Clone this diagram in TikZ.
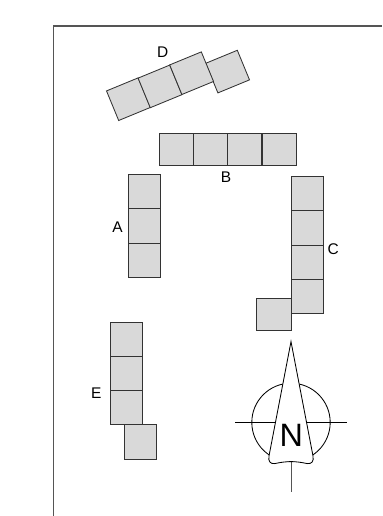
\documentclass[tikz,border=0pt]{standalone}
\usepackage{fontspec}
\setmainfont{Liberation Sans}
\usepackage{tikz}
\definecolor{cellgray}{HTML}{D9D9D9}
\definecolor{framegray}{HTML}{555555}
\tikzset{
  hcell/.style={draw=black!80,line width=0.6pt,fill=cellgray,inner sep=0,outer sep=0,minimum width=0.855cm,minimum height=0.8cm},
  vcell/.style={draw=black!80,line width=0.6pt,fill=cellgray,inner sep=0,outer sep=0,minimum width=0.8cm,minimum height=0.855cm},
  rowlabel/.style={font=\fontsize{11}{13}\selectfont,inner sep=0}
}
\begin{document}
\begin{tikzpicture}
  \useasboundingbox (0,0) rectangle (9.55,12.9);
  % outer boundary, open to the right and below
  \coordinate (fb) at (1.34,0);
  \coordinate (fc) at (1.34,12.25);
  \coordinate (fr) at (9.55,12.25);
  \draw[framegray,line width=0.85pt] (fb) -- (fc) -- (fr);
  % D, turned row
  \node[hcell,rotate=22.4] (d4) at (5.69,11.11) {};
  \node[hcell,rotate=22.4] (d1) at (3.21,10.42) {};
  \node[hcell,rotate=22.4] (d2) at (4.00,10.74) {};
  \node[hcell,rotate=22.4] (d3) at (4.79,11.07) {};
  \node[rowlabel] (dlabel) at (4.07,11.6) {D};
  % B
  \foreach \i/\x in {1/4.41,2/5.27,3/6.12,4/6.98}
    \node[hcell] (b\i) at (\x,9.17) {};
  \node[rowlabel] (blabel) at (5.65,8.48) {B};
  % A
  \foreach \i/\y in {1/8.105,2/7.25,3/6.395}
    \node[vcell] (a\i) at (3.61,\y) {};
  \node[rowlabel] (alabel) at (2.94,7.23) {A};
  % C
  \foreach \i/\y in {1/8.055,2/7.2,3/6.34,4/5.485}
    \node[vcell] (c\i) at (7.675,\y) {};
  \node[hcell] (c5) at (6.85,5.03) {};
  \node[rowlabel] (clabel) at (8.33,6.67) {C};
  % E
  \foreach \i/\y in {1/4.42,2/3.565,3/2.71}
    \node[vcell] (e\i) at (3.17,\y) {};
  \node[vcell] (e4) at (3.52,1.85) {};
  \node[rowlabel] (elabel) at (2.41,3.08) {E};
  % north mark
  \node[draw,circle,line width=0.6pt,inner sep=0,minimum size=1.96cm] (dial) at (7.275,2.34) {};
  \coordinate (west) at (5.875,2.34);
  \coordinate (east) at (8.68,2.34);
  \coordinate (tip) at (7.275,4.36);
  \coordinate (foot) at (7.275,1.36);
  \coordinate (tail) at (7.275,0.59);
  \draw[line width=0.6pt] (west) -- (east);
  \draw[framegray,line width=0.7pt] (foot) -- (tail);
  \draw[fill=white,line width=0.6pt] (tip) -- (6.725,1.5)
    .. controls (6.7,1.36) and (6.76,1.3) .. (6.87,1.31)
    .. controls (7.0,1.34) and (7.15,1.36) .. (foot)
    .. controls (7.4,1.36) and (7.55,1.34) .. (7.68,1.31)
    .. controls (7.79,1.3) and (7.85,1.36) .. (7.825,1.5) -- cycle;
  \node[font=\fontsize{23}{26}\selectfont,inner sep=0] (north) at (7.28,2.01) {N};
\end{tikzpicture}
\end{document}
